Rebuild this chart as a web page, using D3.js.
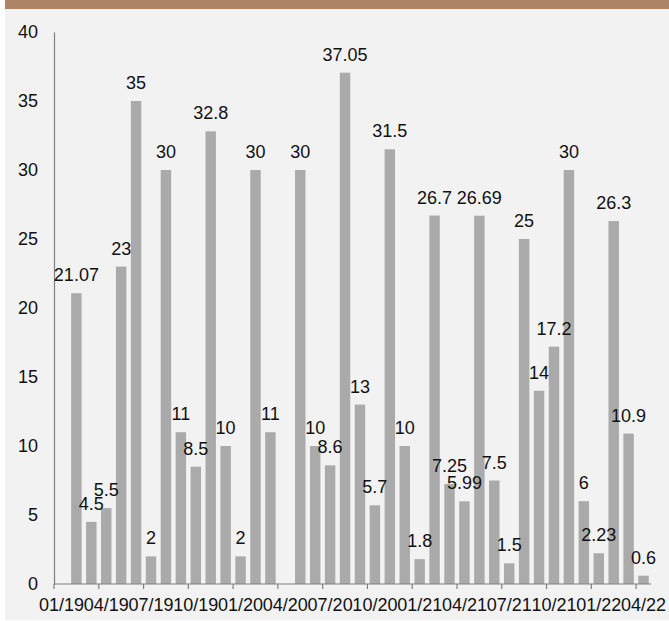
<!DOCTYPE html>
<html>
<head>
<meta charset="utf-8">
<script src="https://cdn.jsdelivr.net/npm/d3@7"></script>
<style>
  html, body { margin: 0; padding: 0; background: #ffffff; }
  svg { display: block; }
  text { font-family: "Liberation Sans", Arial, sans-serif; fill: #111; }
</style>
</head>
<body>
<svg id="chart" width="669" height="621"></svg>
<script>
// Months 01/19 .. 04/22
const categories = ["01/19","02/19","03/19","04/19","05/19","06/19","07/19","08/19","09/19","10/19","11/19","12/19",
  "01/20","02/20","03/20","04/20","05/20","06/20","07/20","08/20","09/20","10/20","11/20","12/20",
  "01/21","02/21","03/21","04/21","05/21","06/21","07/21","08/21","09/21","10/21","11/21","12/21",
  "01/22","02/22","03/22","04/22"];
const values = [null, 21.07, 4.5, 5.5, 23, 35, 2, 30, 11, 8.5, 32.8, 10,
  2, 30, 11, null, 30, 10, 8.6, 37.05, 13, 5.7, 31.5, 10,
  1.8, 26.7, 7.25, 5.99, 26.69, 7.5, 1.5, 25, 14, 17.2, 30, 6,
  2.23, 26.3, 10.9, 0.6];
const valueLabels = [null, "21.07", "4.5", "5.5", "23", "35", "2", "30", "11", "8.5", "32.8", "10",
  "2", "30", "11", null, "30", "10", "8.6", "37.05", "13", "5.7", "31.5", "10",
  "1.8", "26.7", "7.25", "5.99", "26.69", "7.5", "1.5", "25", "14", "17.2", "30", "6",
  "2.23", "26.3", "10.9", "0.6"];
const xTickLabels = ["01/19","04/19","07/19","10/19","01/20","04/20","07/20","10/20","01/21","04/21","07/21","10/21","01/22","04/22"];
const yTicks = [0, 5, 10, 15, 20, 25, 30, 35, 40];

const svg = d3.select("#chart");
svg.append("rect").attr("x", 5).attr("y", 0).attr("width", 664).attr("height", 620).attr("fill", "#f2f2f2");
svg.append("rect").attr("x", 5).attr("y", 0).attr("width", 664).attr("height", 9).attr("fill", "#ad8466");

const x = d3.scaleBand().domain(categories).range([54, 651]).paddingInner(0.3).paddingOuter(0.15);
const y = d3.scaleLinear().domain([0, 40]).range([584, 32]);

const data = categories.map((c, i) => ({ c, v: values[i], label: valueLabels[i] })).filter(d => d.v != null);

// bars
svg.append("g").selectAll("rect").data(data).join("rect")
  .attr("x", d => x(d.c))
  .attr("width", x.bandwidth())
  .attr("y", d => y(d.v))
  .attr("height", d => y(0) - y(d.v))
  .attr("fill", "#aaaaaa");

// y axis
const yAxis = svg.append("g").attr("transform", "translate(54,0)")
  .call(d3.axisLeft(y).tickValues(yTicks).tickSize(0).tickPadding(16).tickFormat(d3.format("d")));
yAxis.select(".domain").attr("stroke", "#7f7f7f").attr("stroke-width", 1.2);
yAxis.selectAll("text").style("font-size", "18px").attr("fill", "#111");

// x axis labels
const xAxis = svg.append("g").attr("transform", "translate(0,584)")
  .call(d3.axisBottom(x).tickValues(xTickLabels).tickSize(0).tickPadding(14));
xAxis.select(".domain").remove();
xAxis.selectAll("text").style("font-size", "18px").attr("fill", "#111");

// x axis line and boundary ticks
svg.append("line").attr("x1", 54).attr("x2", 651).attr("y1", 584).attr("y2", 584)
  .attr("stroke", "#7f7f7f").attr("stroke-width", 1.2);
const half = x.step() * x.paddingInner() / 2;
svg.append("g").selectAll("line").data(xTickLabels).join("line")
  .attr("x1", d => x(d) - half).attr("x2", d => x(d) - half)
  .attr("y1", 584).attr("y2", 589)
  .attr("stroke", "#7f7f7f").attr("stroke-width", 1.2);

// value labels
svg.append("g").selectAll("text").data(data).join("text")
  .attr("x", d => x(d.c) + x.bandwidth() / 2)
  .attr("y", d => y(d.v) - 12)
  .attr("text-anchor", "middle")
  .style("font-size", "18px")
  .text(d => d.label);
</script>
</body>
</html>
